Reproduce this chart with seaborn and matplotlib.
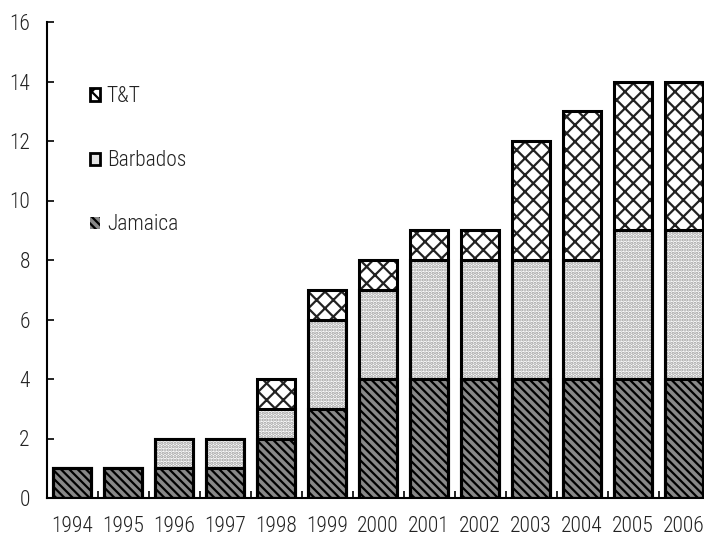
import numpy as np
import pandas as pd
import matplotlib
matplotlib.use('Agg')
import matplotlib.pyplot as plt
import seaborn as sns
from matplotlib.patches import Patch

years = ['1994', '1995', '1996', '1997', '1998', '1999', '2000',
         '2001', '2002', '2003', '2004', '2005', '2006']
jamaica = [1, 1, 1, 1, 2, 3, 4, 4, 4, 4, 4, 4, 4]
barbados = [0, 0, 1, 1, 1, 3, 3, 4, 4, 4, 4, 5, 5]
tt = [0, 0, 0, 0, 1, 1, 1, 1, 1, 4, 5, 5, 5]

sns.set_style('white')
plt.rcParams['font.family'] = ['Roboto Condensed', 'DejaVu Sans']
plt.rcParams['font.weight'] = 'light'
plt.rcParams['hatch.linewidth'] = 1.6

df = pd.DataFrame({'year': years, 'jamaica': jamaica, 'barbados': barbados, 'tt': tt})
df['cum_b'] = df['jamaica'] + df['barbados']
df['cum_t'] = df['cum_b'] + df['tt']

fig = plt.figure(figsize=(7.04, 5.40), dpi=100)
ax = fig.add_axes([46.5 / 704, 1 - 498 / 540, 663 / 704, 476 / 540])

W = 0.75
# filled layers, drawn from the top total down so lower segments cover upper ones
sns.barplot(data=df, x='year', y='cum_t', color='white', edgecolor='#222222',
            hatch='xx', linewidth=0, width=W, saturation=1, ax=ax)
sns.barplot(data=df, x='year', y='cum_b', color='white', edgecolor='#9a9a9a',
            hatch='.....', linewidth=0, width=W, saturation=1, ax=ax)
sns.barplot(data=df, x='year', y='jamaica', color='#888888', edgecolor='black',
            hatch='\\\\\\\\', linewidth=0, width=W, saturation=1, ax=ax)
# outlines
for col in ['cum_t', 'cum_b', 'jamaica']:
    sns.barplot(data=df, x='year', y=col, fill=False, edgecolor='black',
                linewidth=2.2, width=W, ax=ax)

ax.set_ylim(0, 16)
ax.set_yticks(np.arange(0, 17, 2))
ax.set_xlim(-0.5, len(years) - 0.5)
ax.set_xlabel('')
ax.set_ylabel('')

ax.set_xticks(np.arange(0.5, len(years) - 0.5), minor=True)
ax.tick_params(axis='x', which='major', length=0, labelsize=15.5, pad=13, colors='#222222')
ax.tick_params(axis='x', which='minor', length=5, width=1.2, direction='in', color='black', bottom=True)
ax.tick_params(axis='y', length=5, width=1.2, direction='in', labelsize=15.5, pad=12,
               colors='#222222', left=True)
ax.tick_params(axis='both', color='black')

for s in ['top', 'right']:
    ax.spines[s].set_visible(False)
for s in ['left', 'bottom']:
    ax.spines[s].set_color('black')
    ax.spines[s].set_linewidth(1.5)

handles = [
    Patch(facecolor='white', edgecolor='black', hatch='xx', linewidth=2, label='T&T'),
    Patch(facecolor='#e4e4e4', edgecolor='black', linewidth=2, label='Barbados'),
    Patch(facecolor='#888888', edgecolor='black', hatch='\\\\\\\\', linewidth=0, label='Jamaica'),
]
leg = ax.legend(handles=handles, loc='upper left', bbox_to_anchor=(0.065, 0.865),
                frameon=False, fontsize=15.5, handlelength=0.5, handleheight=0.5,
                handletextpad=0.3, labelspacing=2.0, borderpad=0, borderaxespad=0)
for t in leg.get_texts():
    t.set_color('#222222')

fig.savefig('out.png', dpi=100)
